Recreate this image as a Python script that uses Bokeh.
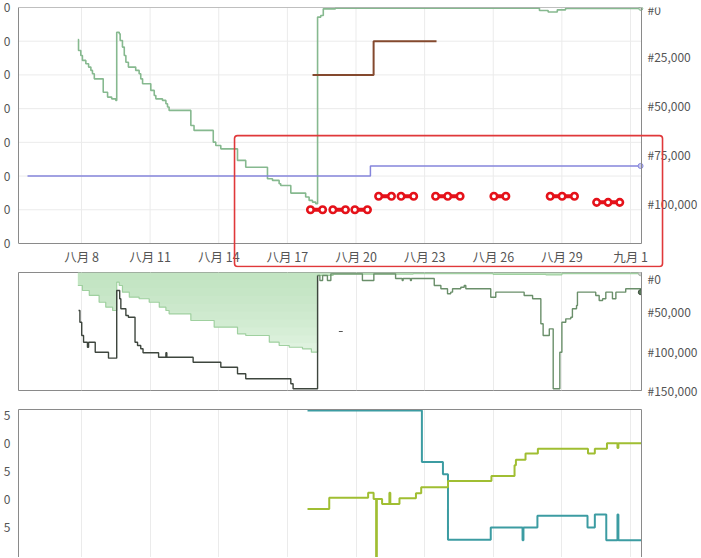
from bokeh.plotting import figure
from bokeh.layouts import column
from bokeh.models import Range1d, LinearAxis, FixedTicker, BoxAnnotation
from bokeh.embed import file_html
from bokeh.resources import INLINE
import numpy as np

# ---------------- data ----------------
tick_days = [8, 11, 14, 17, 20, 23, 26, 29, 32]
tick_labels = ["八月 8", "八月 11", "八月 14", "八月 17", "八月 20", "八月 23", "八月 26", "八月 29", "九月 1"]

price_ticks = [0, 10, 20, 30, 40, 50, 60, 70]
price_labels = ["0", "0", "0", "0", "0", "0", "0", "0"]
rank_ticks = [0, 25000, 50000, 75000, 100000]
rank_labels = ["#0", "#25,000", "#50,000", "#75,000", "#100,000"]
rank2_ticks = [0, 50000, 100000, 150000]
rank2_labels = ["#0", "#50,000", "#100,000", "#150,000"]
count_ticks = [5, 10, 15, 20, 25]
count_labels = ["5", "0", "5", "0", "5"]

# panel 1: sales rank (right axis)
rank_days = [7.84, 7.87, 7.97, 8.04, 8.19, 8.31, 8.41, 8.48, 8.56, 8.95,
             9.14, 9.32, 9.50, 9.54, 9.65, 9.69, 9.79, 9.87, 9.94, 10.05,
             10.37, 10.52, 10.59, 10.67, 11.03, 11.18, 11.25, 11.54, 11.69, 11.76,
             11.83, 12.78, 12.92, 13.76, 13.87, 14.09, 14.82, 15.18, 16.13, 16.35,
             16.64, 16.71, 17.15, 17.80, 17.95, 18.10, 18.24, 18.32, 18.46, 18.57,
             19.10, 28.02, 28.40, 28.80, 29.16, 32.45]
rank_vals = [16300, 21900, 24500, 27000, 28700, 30400, 32100, 33800, 36400, 43200,
             45700, 46600, 47400, 12600, 13400, 16800, 20200, 24500, 27900, 30400,
             32100, 33800, 36400, 38900, 42300, 44900, 46600, 47400, 49100, 50800,
             52500, 60200, 62700, 68700, 70400, 72100, 78000, 81500, 87400, 88200,
             89900, 90800, 94700, 96700, 98400, 99300, 100100, 4900, 4100, 700,
             300, 1500, 2300, 1200, 500, 500]

# panel 1: prices (left axis)
list_days = [5.64, 20.63, 32.44]
list_vals = [20, 23, 23]
used_days = [18.10, 20.77, 23.52]
used_vals = [50, 60, 60]
deal_days = [[18.01, 18.54], [18.99, 19.54], [19.95, 20.50], [20.99, 21.55],
             [21.97, 22.52], [23.48, 24.01, 24.55], [26.03, 26.55],
             [28.49, 29.01, 29.55], [30.52, 31.02, 31.53]]
deal_prices = [10, 10, 10, 14, 14, 14, 14, 14, 12.2]

# highlight box (annotation) in panel-1 data units
box_left, box_right, box_top, box_bottom = 14.69, 33.40, 32.0, -6.8

# panel 2: rank ranges
area_days = [7.84, 8.04, 8.34, 8.77, 9.06, 9.36, 9.54, 9.65, 9.79, 10.09,
             10.52, 10.96, 11.40, 11.69, 11.83, 12.78, 13.80, 14.82, 15.18, 16.21,
             16.64, 17.08, 17.66, 18.05, 18.32, 19.00, 22.50, 26.00, 28.30, 29.00, 32.45]
area_vals = [16500, 22900, 29200, 37800, 44100, 48300, 12300, 16500, 25000, 31400,
             33400, 37800, 44100, 48300, 52500, 61000, 69500, 77900, 80100, 88600,
             92800, 95000, 97000, 101300, 3800, 2000, 1500, 2500, 3000, 1500, 1000]
sub_days_a = [7.87, 7.93, 8.01, 8.09, 8.26, 8.31, 8.60, 9.18, 9.54, 9.67,
              9.72, 9.94, 10.05, 10.34, 10.45, 10.59, 10.69, 11.37, 11.69, 11.73,
              12.88, 14.09, 14.82, 15.18, 17.15, 17.25, 18.32]
sub_vals_a = [48300, 63200, 80100, 88600, 95000, 88600, 101300, 108900, 22900, 33400,
              46100, 54700, 56800, 88600, 92800, 97000, 102100, 107700, 102100, 107700,
              114000, 120400, 128800, 135100, 141500, 147800, 3800]
sub_days_b = [18.32, 18.42, 18.54, 18.75, 18.90, 20.28, 20.78, 21.73, 22.02, 22.06,
              22.38, 22.42, 23.42, 23.71, 24.00, 24.14, 24.22, 24.58, 24.73, 24.80,
              25.89, 26.11, 27.35, 27.72, 28.08, 28.18, 28.45, 28.62, 28.91, 29.00,
              29.17, 29.39, 29.46, 29.64, 29.68, 30.48, 30.63, 30.78, 30.92, 31.21,
              31.36, 31.79, 32.45]
sub_vals_b = [3800, 10200, 3800, 10200, 1700, 10200, 1700, 7600, 10200, 7600,
              10200, 7600, 16500, 20700, 27100, 25000, 20700, 18700, 16500, 20700,
              31400, 25000, 29200, 33400, 65200, 80100, 71600, 147800, 101300, 63200,
              58900, 56800, 46100, 41900, 25000, 29200, 35600, 33400, 25000, 33400,
              25000, 20700, 25000]
dash_days = [19.25, 19.42]
dash_rank = 75000

# panel 3: offer counts
teal_days = [17.88, 22.88, 23.80, 24.02, 25.89, 27.28, 27.32, 27.93, 30.12, 30.44,
             30.94, 31.43, 31.47, 32.49]
teal_vals = [25.9, 16.7, 14.5, 2.8, 5.0, 2.7, 5.0, 7.1, 5.0, 7.3,
             2.7, 7.3, 2.7, 2.7]
yel_days = [17.88, 18.83, 20.53, 20.77, 20.88, 20.91, 21.14, 21.46, 21.50, 21.90,
            22.62, 22.85, 24.02, 25.92, 26.93, 26.99, 27.41, 27.95, 30.14, 30.44,
            30.97, 31.43, 31.47, 32.49]
yel_vals = [8.3, 10.3, 11.2, 10.1, -1.0, 10.1, 9.2, 11.2, 9.2, 10.2,
            11.1, 12.2, 13.3, 14.2, 16.1, 17.1, 18.2, 19.05, 18.2, 19.05,
            20.05, 19.2, 20.05, 20.05]

# ---------------- style ----------------
FONT = "Noto Sans CJK SC"
LBL = "#555555"
GRID = "#ebebeb"
FRAME = "#8a8a8a"
X0, X1 = 5.246, 32.48          # visible date span of the plot areas
P0, P1 = 0, 70                 # price span of panel 1
R_MAX = 120400                 # rank at bottom of panel 1 plot area


def style_axis(ax, size="12px"):
    ax.major_tick_out = 0
    ax.major_tick_in = 0
    ax.minor_tick_out = 0
    ax.minor_tick_in = 0
    ax.axis_line_color = FRAME
    ax.major_label_text_color = LBL
    ax.major_label_text_font = FONT
    ax.major_label_text_font_size = size


def base(fw, fh, left, right, top, bottom, x_range, y_range, yloc="left"):
    p = figure(frame_width=fw, frame_height=fh, min_border_left=left,
               min_border_right=right, min_border_top=top, min_border_bottom=bottom,
               x_range=x_range, y_range=y_range, y_axis_location=yloc,
               output_backend="svg", toolbar_location=None,
               background_fill_color="white", border_fill_color="white")
    p.outline_line_color = FRAME
    return p


# ---------- panel 1 (frame extends past the plot area so the highlight box fits) ----------
px_per_day = 22.875
p1_x_end = X0 + 679 / px_per_day
p1_y_start = P0 - 24 * (P1 - P0) / 236
p1_rank_end = R_MAX * 260 / 236
p1 = base(679, 260, 16, 6, 7, 2, Range1d(X0, p1_x_end), Range1d(p1_y_start, P1))
p1.outline_line_color = None
p1.xgrid.visible = False
p1.ygrid.visible = False
p1.extra_y_ranges = {"rank": Range1d(p1_rank_end, 0)}

# gridlines inside the plot area only
p1.segment(x0=tick_days, x1=tick_days, y0=[P0] * len(tick_days), y1=[P1] * len(tick_days),
           line_color=GRID, line_width=1)
p1.segment(x0=[X0] * len(price_ticks), x1=[X1] * len(price_ticks), y0=price_ticks,
           y1=price_ticks, line_color=GRID, line_width=1)

xax = p1.xaxis[0]
xax.ticker = FixedTicker(ticks=tick_days)
xax.major_label_overrides = dict(zip(tick_days, tick_labels))
style_axis(xax, "12.5px")
xax.major_label_standoff = 3
xax.fixed_location = P0
xax.bounds = (X0, X1)

yax = p1.yaxis[0]
yax.ticker = FixedTicker(ticks=price_ticks)
yax.major_label_overrides = dict(zip(price_ticks, price_labels))
style_axis(yax, "12px")
yax.major_label_standoff = 8
yax.bounds = (P0, P1)

rax = LinearAxis(y_range_name="rank", ticker=FixedTicker(ticks=rank_ticks),
                 major_label_overrides=dict(zip(rank_ticks, rank_labels)),
                 fixed_location=X1, bounds=(0, R_MAX))
style_axis(rax)
rax.major_label_standoff = 6
p1.add_layout(rax, "right")

tax = LinearAxis(ticker=FixedTicker(ticks=[]), fixed_location=P1, bounds=(X0, X1))
style_axis(tax)
p1.add_layout(tax, "above")

p1.step(rank_days, rank_vals, mode="after", y_range_name="rank",
        line_color="#86b98f", line_width=1.6)
p1.scatter([rank_days[-1]], [rank_vals[-1]], y_range_name="rank", size=4,
           fill_color="#c8dcc8", line_color="#86b98f")
p1.step(list_days, list_vals, mode="after", line_color="#8585dc", line_width=1.5)
p1.scatter([list_days[-1]], [list_vals[-1]], size=5, fill_color="#c9c9f0",
           line_color="#8585dc")
p1.step(used_days, used_vals, mode="after", line_color="#84492e", line_width=2)
for xs, pr in zip(deal_days, deal_prices):
    p1.line(xs, [pr] * len(xs), line_color="#e5121a", line_width=4)
    p1.scatter(xs, [pr] * len(xs), size=6.5, fill_color="white",
               line_color="#e5121a", line_width=2.6)

p1.add_layout(BoxAnnotation(left=box_left, right=box_right, top=box_top,
                            bottom=box_bottom, fill_alpha=0, line_color="#e0383a",
                            line_alpha=1, line_width=1.6, border_radius=3))

# ---------- panel 2 ----------
p2 = base(623, 118, 16, 61, 3, 12, Range1d(X0, X1), Range1d(150000, 0), yloc="right")
p2.xaxis.visible = False
p2.ygrid.visible = False
p2.xgrid.ticker = FixedTicker(ticks=tick_days)
p2.xgrid.grid_line_color = GRID
p2.yaxis.ticker = FixedTicker(ticks=rank2_ticks)
p2.yaxis.major_label_overrides = dict(zip(rank2_ticks, rank2_labels))
style_axis(p2.yaxis[0])
p2.yaxis.major_label_standoff = 6

av = np.array(area_vals, dtype=float)
zeros = np.zeros_like(av)
p2.varea_step(x=area_days, y1=zeros, y2=av, step_mode="after",
              fill_color="#e4f5e4", fill_alpha=1)
for lvl in np.linspace(100000, 10000, 10):
    p2.varea_step(x=area_days, y1=zeros, y2=np.minimum(av, lvl), step_mode="after",
                  fill_color="#b3dfb3", fill_alpha=0.09)
p2.step(area_days, area_vals, mode="after", line_color="#9fd09f", line_width=1.2)
p2.scatter([area_days[-1]], [area_vals[-1]], size=5, fill_color="#d0d0d0",
           line_color="#a8b8a8")
p2.step(sub_days_a, sub_vals_a, mode="after", line_color="#3e463e", line_width=1.4)
p2.step(sub_days_b, sub_vals_b, mode="after", line_color="#6a8f6a", line_width=1.4)
p2.scatter([sub_days_b[-1]], [sub_vals_b[-1]], size=5, fill_color="#5a7a5a",
           line_color="#3e4e3e")
p2.line(dash_days, [dash_rank, dash_rank], line_color="#555555", line_width=1.2)

# ---------- panel 3 ----------
p3 = base(623, 148, 16, 61, 7, 0, Range1d(X0, X1), Range1d(-0.36, 26.07))
p3.outline_line_color = None
p3.xaxis.visible = False
p3.ygrid.visible = False
p3.xgrid.ticker = FixedTicker(ticks=tick_days)
p3.xgrid.grid_line_color = GRID
p3.yaxis.ticker = FixedTicker(ticks=count_ticks)
p3.yaxis.major_label_overrides = dict(zip(count_ticks, count_labels))
style_axis(p3.yaxis[0], "12px")
p3.yaxis.major_label_standoff = 8
for loc in ["above", "right"]:
    ax = LinearAxis(ticker=FixedTicker(ticks=[]))
    style_axis(ax)
    p3.add_layout(ax, loc)

p3.step(teal_days, teal_vals, mode="after", line_color="#3c9ca2", line_width=2)
p3.step(yel_days, yel_vals, mode="after", line_color="#a0be32", line_width=2)

layout = column(p1, p2, p3)
open("out.html", "w").write(file_html(layout, INLINE))
